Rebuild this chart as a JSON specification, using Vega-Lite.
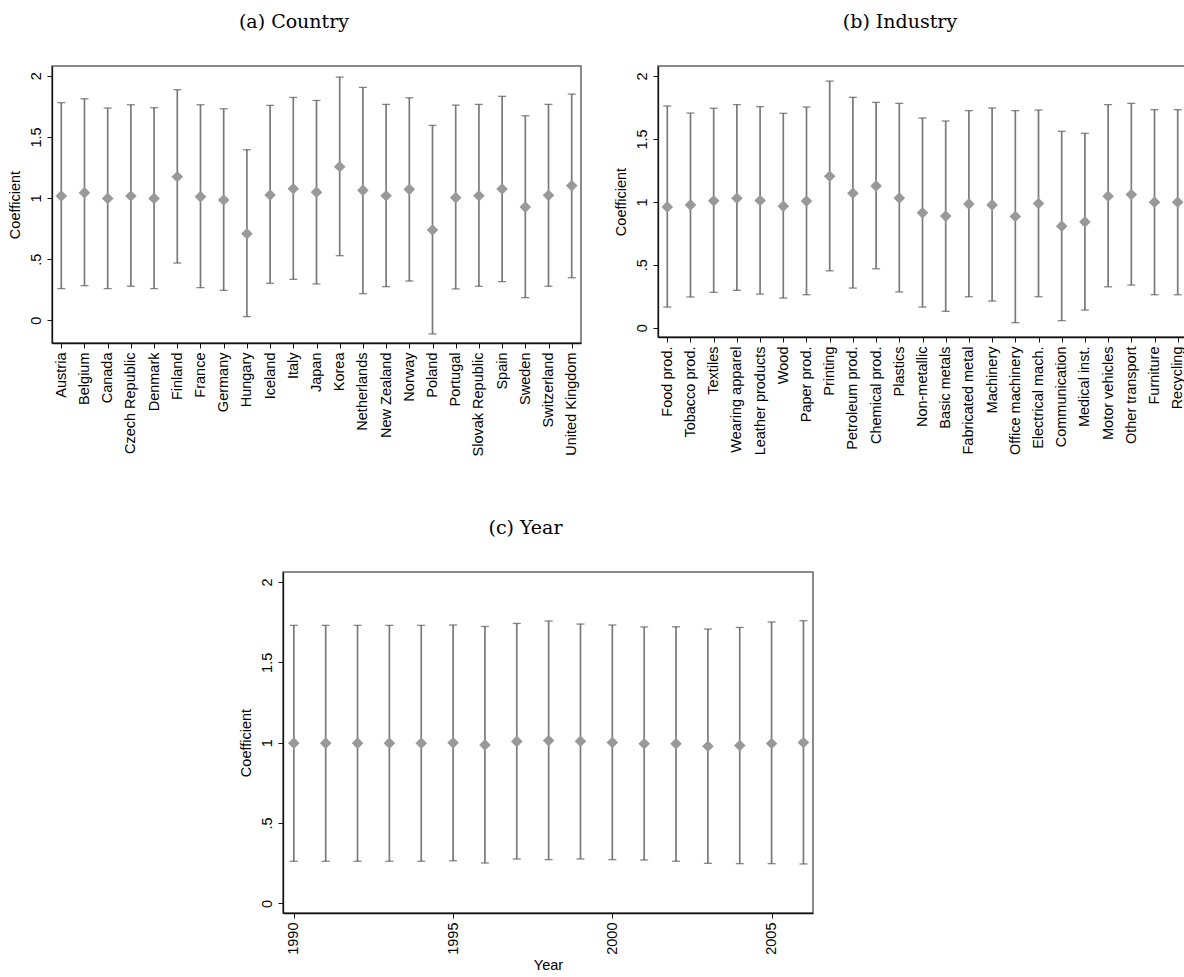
{
  "$schema": "https://vega.github.io/schema/vega-lite/v6.json",
  "padding": {"left": 6, "top": 12, "right": 0, "bottom": 0},
  "background": "white",
  "config": {
    "view": {"stroke": "#666666", "strokeWidth": 1.5},
    "axis": {
      "labelFont": "Liberation Sans", "labelFontSize": 14.5, "labelColor": "#000000",
      "titleFont": "Liberation Sans", "titleFontSize": 14.5, "titleFontWeight": "normal", "titleColor": "#000000",
      "domainColor": "#111111", "domainWidth": 1.3, "tickColor": "#111111", "tickSize": 5, "labelPadding": 4,
      "grid": false
    },
    "title": {"font": "DejaVu Serif", "fontSize": 19, "fontWeight": "normal", "color": "#000000", "frame": "bounds", "anchor": "middle", "offset": 34}
  },
  "datasets": {
    "country": [
      {"name": "Austria", "coef": 1.016, "lo": 0.259, "hi": 1.780},
      {"name": "Belgium", "coef": 1.044, "lo": 0.283, "hi": 1.812},
      {"name": "Canada", "coef": 0.997, "lo": 0.259, "hi": 1.736},
      {"name": "Czech Republic", "coef": 1.016, "lo": 0.278, "hi": 1.763},
      {"name": "Denmark", "coef": 0.997, "lo": 0.259, "hi": 1.739},
      {"name": "Finland", "coef": 1.174, "lo": 0.468, "hi": 1.886},
      {"name": "France", "coef": 1.011, "lo": 0.267, "hi": 1.763},
      {"name": "Germany", "coef": 0.984, "lo": 0.245, "hi": 1.730},
      {"name": "Hungary", "coef": 0.708, "lo": 0.030, "hi": 1.395},
      {"name": "Iceland", "coef": 1.025, "lo": 0.302, "hi": 1.758},
      {"name": "Italy", "coef": 1.076, "lo": 0.335, "hi": 1.823},
      {"name": "Japan", "coef": 1.048, "lo": 0.297, "hi": 1.798},
      {"name": "Korea", "coef": 1.256, "lo": 0.528, "hi": 1.989},
      {"name": "Netherlands", "coef": 1.063, "lo": 0.218, "hi": 1.905},
      {"name": "New Zealand", "coef": 1.019, "lo": 0.275, "hi": 1.766},
      {"name": "Norway", "coef": 1.071, "lo": 0.321, "hi": 1.820},
      {"name": "Poland", "coef": 0.738, "lo": -0.112, "hi": 1.594},
      {"name": "Portugal", "coef": 1.003, "lo": 0.256, "hi": 1.760},
      {"name": "Slovak Republic", "coef": 1.019, "lo": 0.278, "hi": 1.766},
      {"name": "Spain", "coef": 1.074, "lo": 0.316, "hi": 1.832},
      {"name": "Sweden", "coef": 0.926, "lo": 0.185, "hi": 1.673},
      {"name": "Switzerland", "coef": 1.022, "lo": 0.278, "hi": 1.766},
      {"name": "United Kingdom", "coef": 1.101, "lo": 0.348, "hi": 1.850}
    ],
    "industry": [
      {"name": "Food prod.", "coef": 0.960, "lo": 0.164, "hi": 1.762},
      {"name": "Tobacco prod.", "coef": 0.976, "lo": 0.244, "hi": 1.706},
      {"name": "Textiles", "coef": 1.008, "lo": 0.281, "hi": 1.744},
      {"name": "Wearing apparel", "coef": 1.029, "lo": 0.297, "hi": 1.773},
      {"name": "Leather products", "coef": 1.011, "lo": 0.267, "hi": 1.757},
      {"name": "Wood", "coef": 0.966, "lo": 0.236, "hi": 1.704},
      {"name": "Paper prod.", "coef": 1.006, "lo": 0.262, "hi": 1.754},
      {"name": "Printing", "coef": 1.204, "lo": 0.452, "hi": 1.960},
      {"name": "Petroleum prod.", "coef": 1.069, "lo": 0.315, "hi": 1.831},
      {"name": "Chemical prod.", "coef": 1.127, "lo": 0.468, "hi": 1.791},
      {"name": "Plastics", "coef": 1.030, "lo": 0.284, "hi": 1.783},
      {"name": "Non-metallic", "coef": 0.913, "lo": 0.164, "hi": 1.667},
      {"name": "Basic metals", "coef": 0.887, "lo": 0.130, "hi": 1.643},
      {"name": "Fabricated metal", "coef": 0.984, "lo": 0.246, "hi": 1.725},
      {"name": "Machinery", "coef": 0.976, "lo": 0.212, "hi": 1.746},
      {"name": "Office machinery", "coef": 0.884, "lo": 0.040, "hi": 1.725},
      {"name": "Electrical mach.", "coef": 0.987, "lo": 0.246, "hi": 1.730},
      {"name": "Communication", "coef": 0.807, "lo": 0.056, "hi": 1.561},
      {"name": "Medical inst.", "coef": 0.841, "lo": 0.140, "hi": 1.545},
      {"name": "Motor vehicles", "coef": 1.045, "lo": 0.325, "hi": 1.773},
      {"name": "Other transport", "coef": 1.059, "lo": 0.339, "hi": 1.783},
      {"name": "Furniture", "coef": 0.998, "lo": 0.262, "hi": 1.733},
      {"name": "Recycling", "coef": 0.998, "lo": 0.262, "hi": 1.733}
    ],
    "year": [
      {"year": 1990, "coef": 0.997, "lo": 0.262, "hi": 1.730},
      {"year": 1991, "coef": 0.997, "lo": 0.262, "hi": 1.730},
      {"year": 1992, "coef": 0.997, "lo": 0.262, "hi": 1.730},
      {"year": 1993, "coef": 0.997, "lo": 0.262, "hi": 1.730},
      {"year": 1994, "coef": 0.997, "lo": 0.262, "hi": 1.730},
      {"year": 1995, "coef": 0.999, "lo": 0.265, "hi": 1.732},
      {"year": 1996, "coef": 0.986, "lo": 0.251, "hi": 1.723},
      {"year": 1997, "coef": 1.008, "lo": 0.276, "hi": 1.742},
      {"year": 1998, "coef": 1.013, "lo": 0.272, "hi": 1.757},
      {"year": 1999, "coef": 1.009, "lo": 0.276, "hi": 1.738},
      {"year": 2000, "coef": 1.001, "lo": 0.272, "hi": 1.732},
      {"year": 2001, "coef": 0.993, "lo": 0.270, "hi": 1.720},
      {"year": 2002, "coef": 0.993, "lo": 0.262, "hi": 1.721},
      {"year": 2003, "coef": 0.978, "lo": 0.249, "hi": 1.707},
      {"year": 2004, "coef": 0.982, "lo": 0.247, "hi": 1.717},
      {"year": 2005, "coef": 0.995, "lo": 0.247, "hi": 1.751},
      {"year": 2006, "coef": 1.001, "lo": 0.245, "hi": 1.759}
    ]
  },
  "spacing": 61,
  "vconcat": [
    {
      "spacing": 30,
      "hconcat": [
        {
          "title": "(a) Country",
          "width": 529, "height": 277,
          "data": {"name": "country"},
          "encoding": {
            "x": {"field": "name", "type": "nominal", "sort": null, "scale": {"type": "point", "padding": 0.4}, "axis": {"title": null, "labelAngle": -90, "labelAlign": "right", "labelBaseline": "middle"}}
          },
          "layer": [
            {"mark": {"type": "rule", "color": "#7a7a7a", "strokeWidth": 1.7},
             "encoding": {"y": {"field": "lo", "type": "quantitative", "scale": {"domain": [-0.186, 2.08], "nice": false, "zero": false}, "axis": {"title": "Coefficient", "values": [0, 0.5, 1, 1.5, 2], "labelExpr": "datum.value == 0.5 ? '.5' : toString(datum.value)", "labelAngle": -90, "labelAlign": "center", "labelBaseline": "bottom", "titlePadding": 6}}, "y2": {"field": "hi"}}},
            {"mark": {"type": "tick", "orient": "horizontal", "color": "#555555", "thickness": 1.3, "size": 8},
             "encoding": {"y": {"field": "hi", "type": "quantitative", "title": "Coefficient"}}},
            {"mark": {"type": "tick", "orient": "horizontal", "color": "#555555", "thickness": 1.3, "size": 8},
             "encoding": {"y": {"field": "lo", "type": "quantitative", "title": "Coefficient"}}},
            {"mark": {"type": "point", "shape": "diamond", "filled": true, "size": 135, "color": "#999999", "opacity": 1},
             "encoding": {"y": {"field": "coef", "type": "quantitative", "title": "Coefficient"}}}
          ]
        },
        {
          "title": "(b) Industry",
          "width": 529, "height": 271,
          "data": {"name": "industry"},
          "encoding": {
            "x": {"field": "name", "type": "nominal", "sort": null, "scale": {"type": "point", "padding": 0.4}, "axis": {"title": null, "labelAngle": -90, "labelAlign": "right", "labelBaseline": "middle"}}
          },
          "layer": [
            {"mark": {"type": "rule", "color": "#7a7a7a", "strokeWidth": 1.7},
             "encoding": {"y": {"field": "lo", "type": "quantitative", "scale": {"domain": [-0.074, 2.08], "nice": false, "zero": false}, "axis": {"title": "Coefficient", "values": [0, 0.5, 1, 1.5, 2], "labelExpr": "datum.value == 0.5 ? '.5' : toString(datum.value)", "labelAngle": -90, "labelAlign": "center", "labelBaseline": "bottom", "titlePadding": 6}}, "y2": {"field": "hi"}}},
            {"mark": {"type": "tick", "orient": "horizontal", "color": "#555555", "thickness": 1.3, "size": 8},
             "encoding": {"y": {"field": "hi", "type": "quantitative", "title": "Coefficient"}}},
            {"mark": {"type": "tick", "orient": "horizontal", "color": "#555555", "thickness": 1.3, "size": 8},
             "encoding": {"y": {"field": "lo", "type": "quantitative", "title": "Coefficient"}}},
            {"mark": {"type": "point", "shape": "diamond", "filled": true, "size": 135, "color": "#999999", "opacity": 1},
             "encoding": {"y": {"field": "coef", "type": "quantitative", "title": "Coefficient"}}}
          ]
        }
      ]
    },
    {
      "spacing": 0,
      "hconcat": [
        {
          "width": 185, "height": 10,
          "view": {"stroke": null},
          "data": {"values": [{"t": ""}]},
          "mark": {"type": "text", "opacity": 0},
          "encoding": {"text": {"field": "t"}}
        },
        {
          "title": "(c) Year",
          "width": 530, "height": 341,
          "data": {"name": "year"},
          "encoding": {
            "x": {"field": "year", "type": "quantitative", "scale": {"domain": [1989.66, 2006.3], "nice": false, "zero": false}, "axis": {"title": "Year", "values": [1990, 1995, 2000, 2005], "format": "d", "labelAngle": -90, "labelAlign": "right", "labelBaseline": "middle", "titlePadding": 4}}
          },
          "layer": [
            {"mark": {"type": "rule", "color": "#7a7a7a", "strokeWidth": 1.7},
             "encoding": {"y": {"field": "lo", "type": "quantitative", "scale": {"domain": [-0.06, 2.062], "nice": false, "zero": false}, "axis": {"title": "Coefficient", "values": [0, 0.5, 1, 1.5, 2], "labelExpr": "datum.value == 0.5 ? '.5' : toString(datum.value)", "labelAngle": -90, "labelAlign": "center", "labelBaseline": "bottom", "titlePadding": 6}}, "y2": {"field": "hi"}}},
            {"mark": {"type": "tick", "orient": "horizontal", "color": "#555555", "thickness": 1.3, "size": 8},
             "encoding": {"y": {"field": "hi", "type": "quantitative", "title": "Coefficient"}}},
            {"mark": {"type": "tick", "orient": "horizontal", "color": "#555555", "thickness": 1.3, "size": 8},
             "encoding": {"y": {"field": "lo", "type": "quantitative", "title": "Coefficient"}}},
            {"mark": {"type": "point", "shape": "diamond", "filled": true, "size": 135, "color": "#999999", "opacity": 1},
             "encoding": {"y": {"field": "coef", "type": "quantitative", "title": "Coefficient"}}}
          ]
        }
      ]
    }
  ]
}
